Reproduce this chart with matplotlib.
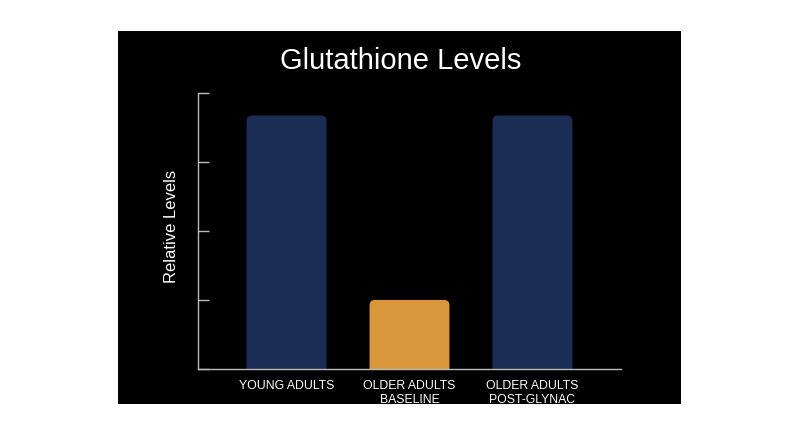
import matplotlib
matplotlib.use("Agg")
import matplotlib.pyplot as plt
from matplotlib.patches import Rectangle, FancyBboxPatch

categories = ["YOUNG ADULTS", "OLDER ADULTS\nBASELINE", "OLDER ADULTS\nPOST-GLYNAC"]
values = [3.67, 1.0, 3.67]
colors = ["#1b2c55", "#d9963a", "#1b2c55"]
yticks = [0, 1, 2, 3, 4]
title = "Glutathione Levels"
ylabel = "Relative Levels"

plt.rcParams['font.family'] = ['Liberation Sans', 'DejaVu Sans']

fig = plt.figure(figsize=(8, 4.47), dpi=100)
fig.patch.set_facecolor("white")

# black panel
fig.patches.append(Rectangle((118/800, 43/447), (681-118)/800, (404-31)/447,
                             transform=fig.transFigure, facecolor="black",
                             edgecolor="none", zorder=0))

ax = fig.add_axes([198/800, 78/447, (621-198)/800, (369-92.7)/447])
ax.set_facecolor("none")
ax.set_zorder(1)

x = list(range(len(categories)))
bars = ax.bar(x, values, width=0.65, color=colors)
for b, c in zip(bars, colors):
    bx, by = b.get_x(), b.get_y()
    w, h = b.get_width(), b.get_height()
    b.set_visible(False)
    p = FancyBboxPatch((bx, by - 0.2), w, h + 0.2,
                       boxstyle="round,pad=0,rounding_size=0.045",
                       mutation_aspect=1.75, facecolor=c, edgecolor="none")
    p.set_clip_path(ax.patch)
    ax.add_patch(p)

ax.set_xlim(-0.72, 2.72)
ax.set_ylim(0, 4)
ax.set_yticks(yticks)
ax.set_yticklabels([])
ax.set_xticks(x)
ax.set_xticklabels(categories, color="white", fontsize=8.8, linespacing=1.2)
ax.tick_params(axis="x", length=0, pad=8)
ax.tick_params(axis="y", direction="in", length=8, width=1, color="#bbbbbb")
for s in ["top", "right"]:
    ax.spines[s].set_visible(False)
for s in ["left", "bottom"]:
    ax.spines[s].set_color("#bbbbbb")
    ax.spines[s].set_linewidth(1)

fig.text(172/800, 1 - 226/447, ylabel, rotation=90, ha="center", va="center",
         color="white", fontsize=12)
fig.text(401/800, 1 - 69/447, title, ha="center", va="baseline",
         color="white", fontsize=21)

fig.savefig("out.png", dpi=100, facecolor="white")
